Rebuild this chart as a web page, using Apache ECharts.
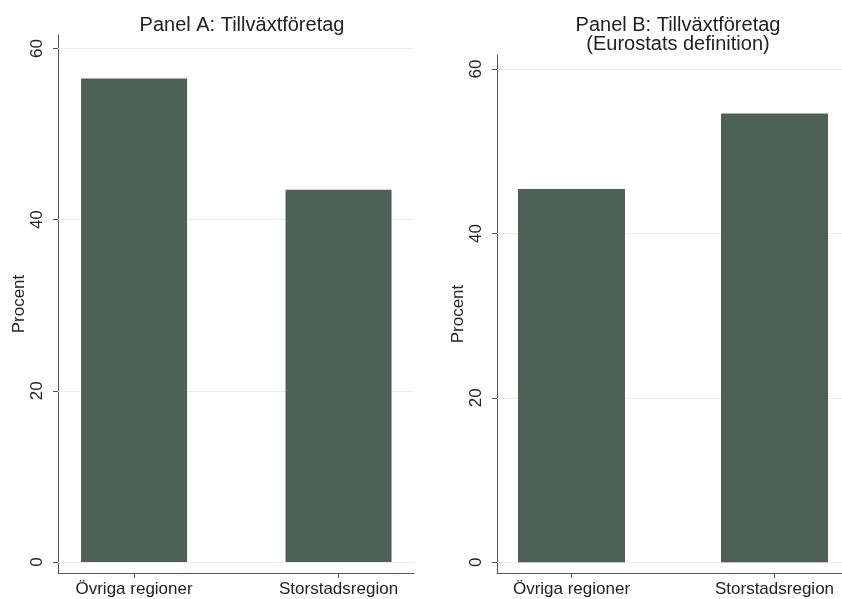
<!DOCTYPE html>
<html>
<head>
<meta charset="utf-8">
<script src="https://cdn.jsdelivr.net/npm/echarts@6/dist/echarts.min.js"></script>
<style>
html,body{margin:0;padding:0;background:#fff;}
#c{width:842px;height:599px;}
</style>
</head>
<body>
<div id="c"></div>
<script>
var categories = ['Övriga regioner', 'Storstadsregion'];
var panelAValues = [56.5, 43.5];
var panelBValues = [45.4, 54.6];
var yTicks = [0, 20, 40, 60];
var catPositions = [0, 1];
var titleA = 'Panel A: Tillväxtföretag';
var titleB = 'Panel B: Tillväxtföretag\n(Eurostats definition)';
var yName = 'Procent';

var font = 'Liberation Sans, Arial, sans-serif';
var barColor = '#4e6159';
var axisColor = '#555';
var textColor = '#222';

function xAxisCfg(gridIndex, min, max) {
  return {
    gridIndex: gridIndex, type: 'value', min: min, max: max, position: 'bottom',
    axisLine: { show: true, onZero: false, lineStyle: { color: axisColor, width: 1 } },
    axisTick: { show: true, length: 5, customValues: catPositions, lineStyle: { color: axisColor } },
    axisLabel: { customValues: catPositions, margin: 8, fontSize: 17, color: textColor, fontFamily: font,
      formatter: function (v) { return categories[Math.round(v)]; } },
    splitLine: { show: false }
  };
}
function yAxisCfg(gridIndex, min, max) {
  return {
    gridIndex: gridIndex, type: 'value', min: min, max: max,
    name: yName, nameLocation: 'middle', nameGap: 30, nameRotate: 90,
    nameTextStyle: { fontSize: 17, color: textColor, fontFamily: font },
    axisLine: { show: true, onZero: false, lineStyle: { color: axisColor, width: 1 } },
    axisTick: { show: true, length: 5, customValues: yTicks, lineStyle: { color: axisColor } },
    axisLabel: { customValues: yTicks, rotate: 90, margin: 12, fontSize: 17, color: textColor, fontFamily: font },
    splitLine: { show: false }
  };
}
function barSeries(idx, values, width) {
  return {
    type: 'bar', xAxisIndex: idx, yAxisIndex: idx, barWidth: width, z: 2,
    itemStyle: { color: barColor },
    data: values.map(function (v, i) { return [catPositions[i], v]; }),
    markLine: {
      silent: true, symbol: 'none', z: 1, animation: false,
      label: { show: false },
      lineStyle: { color: '#ebebeb', type: 'solid', width: 1 },
      data: yTicks.map(function (t) { return { yAxis: t }; })
    }
  };
}

var chart = echarts.init(document.getElementById('c'), null, { renderer: 'canvas' });
chart.setOption({
  animation: false,
  backgroundColor: '#fff',
  title: [
    { text: titleA, left: 237, top: 9, textAlign: 'center',
      textStyle: { fontSize: 20, fontWeight: 'normal', color: textColor, fontFamily: font, lineHeight: 22 } },
    { text: titleB, left: 673, top: 11, textAlign: 'center',
      textStyle: { fontSize: 20, fontWeight: 'normal', color: textColor, fontFamily: font, lineHeight: 19 } }
  ],
  grid: [
    { left: 58, right: 428, top: 35, bottom: 26 },
    { left: 497, right: 0, top: 55, bottom: 26 }
  ],
  xAxis: [xAxisCfg(0, -0.372, 1.369), xAxisCfg(1, -0.367, 1.3325)],
  yAxis: [yAxisCfg(0, -1.29, 61.58), yAxisCfg(1, -1.3, 61.7)],
  series: [barSeries(0, panelAValues, 106), barSeries(1, panelBValues, 107)]
});
</script>
</body>
</html>
